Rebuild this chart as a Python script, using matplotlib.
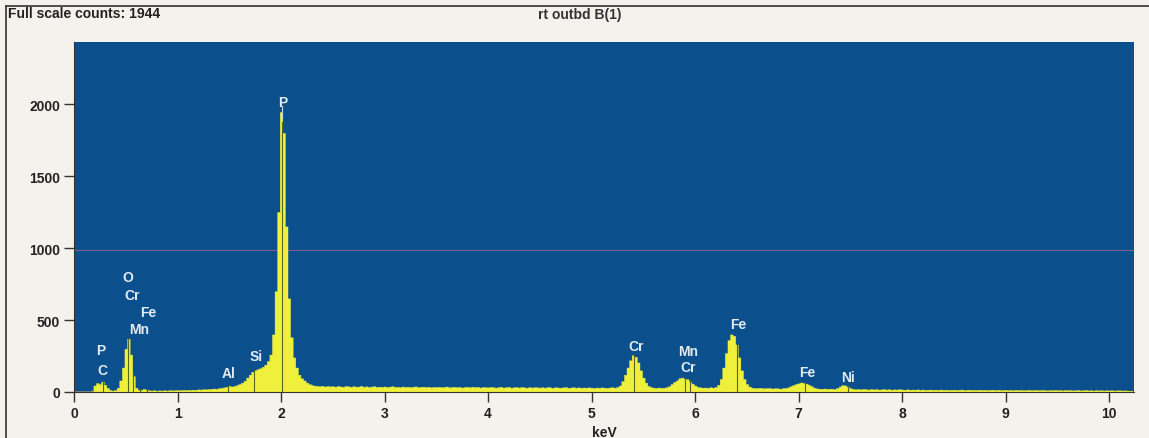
# EDS spectrum "rt outbd B(1)" - counts vs keV
import matplotlib
matplotlib.use("Agg")
import matplotlib.pyplot as plt
import numpy as np

plt.rcParams['font.family'] = ['Liberation Sans', 'DejaVu Sans']

STEP_KEV = 0.025

# counts per 0.025 keV channel, one row = 0.5 keV
COUNTS = [
    0, 0, 0, 0, 0, 0, 0, 10, 45, 62, 55, 72, 50, 28, 14, 10, 14, 30, 80, 170,
    300, 370, 260, 110, 30, 16, 14, 22, 16, 12, 10, 12, 9, 11, 10, 12, 10, 13, 11, 12,
    13, 12, 14, 13, 15, 14, 16, 15, 18, 17, 19, 18, 21, 20, 24, 22, 26, 28, 32, 36,
    42, 38, 42, 48, 55, 65, 78, 100, 120, 140, 150, 158, 165, 175, 190, 215, 260, 400, 700, 1250,
    1944, 1800, 1150, 650, 380, 240, 170, 120, 95, 80, 65, 55, 48, 44, 42, 40, 43, 38, 41, 39,
    40, 37, 42, 38, 36, 41, 39, 35, 40, 37, 38, 42, 36, 39, 34, 38, 40, 35, 37, 36,
    38, 34, 37, 40, 35, 36, 33, 38, 35, 37, 34, 36, 39, 33, 35, 37, 34, 36, 32, 35,
    34, 36, 33, 35, 38, 32, 34, 36, 33, 35, 31, 34, 36, 32, 37, 33, 35, 31, 34, 33,
    32, 35, 33, 30, 34, 36, 31, 33, 35, 30, 33, 34, 31, 35, 32, 30, 34, 31, 33, 32,
    31, 33, 30, 34, 32, 29, 33, 31, 30, 32, 34, 29, 31, 33, 30, 32, 29, 31, 30, 32,
    30, 28, 31, 29, 32, 30, 28, 31, 33, 30, 35, 45, 75, 120, 170, 220, 255, 245, 205, 150,
    100, 65, 42, 33, 30, 28, 31, 29, 30, 33, 40, 55, 70, 80, 95, 100, 92, 88, 70, 58,
    45, 36, 32, 30, 31, 29, 33, 30, 35, 50, 90, 170, 270, 360, 400, 390, 330, 240, 150, 90,
    55, 38, 30, 28, 26, 29, 27, 25, 28, 26, 24, 27, 25, 23, 26, 28, 32, 40, 48, 55,
    60, 66, 62, 58, 50, 40, 30, 25, 23, 22, 24, 21, 23, 22, 20, 28, 38, 48, 45, 36,
    26, 21, 19, 20, 18, 21, 19, 17, 20, 18, 19, 17, 18, 20, 17, 19, 16, 18, 17, 19,
    17, 16, 18, 15, 17, 16, 18, 15, 17, 14, 16, 17, 15, 16, 14, 17, 15, 16, 14, 15,
    16, 14, 15, 17, 13, 15, 16, 14, 15, 13, 16, 14, 15, 13, 14, 16, 13, 15, 14, 13,
    15, 13, 14, 12, 15, 13, 14, 12, 13, 15, 12, 14, 13, 12, 14, 13, 11, 13, 12, 14,
    12, 13, 11, 14, 12, 13, 11, 12, 13, 11, 12, 14, 11, 12, 10, 13, 11, 12, 10, 12,
    11, 12, 10, 11, 12, 10, 11, 10, 9, 10,
]

# element marker lines (keV)
MARKER_KEV = [0.277, 0.525, 0.573, 0.637, 0.705, 1.486, 1.740, 2.013,
              5.414, 5.899, 5.947, 6.404, 7.058, 7.478]

# peak labels: text, keV, counts
LABEL_TEXT = ["O", "Cr", "Fe", "Mn", "P", "C", "Al", "Si", "P",
              "Cr", "Mn", "Cr", "Fe", "Fe", "Ni"]
LABEL_KEV = [0.52, 0.56, 0.715, 0.63, 0.26, 0.27, 1.49, 1.76, 2.02,
             5.43, 5.93, 5.93, 6.42, 7.08, 7.48]
LABEL_CNT = [799, 674, 556, 437, 292, 153, 132, 250, 2014,
             319, 285, 174, 472, 139, 104]

FULL_SCALE = 1944
MARK_LEVEL = 985

BG = '#f3f2ec'
BLUE = '#0c4f8d'
YELLOW = '#eef03c'


def main():
    counts = np.array(COUNTS, dtype=float)
    energy = np.arange(len(counts)) * STEP_KEV

    fig = plt.figure(figsize=(11.49, 4.39), dpi=100, facecolor=BG)
    ax = fig.add_axes([74 / 1149, 46 / 439, 1060 / 1149, 350 / 439])
    ax.set_facecolor(BLUE)

    ax.fill_between(energy, counts, step='mid', color=YELLOW, lw=0.3,
                    edgecolor=YELLOW, zorder=2)
    ax.plot([0, 0.18], [2, 2], color='#8a8f80', lw=1.2, zorder=2)

    for e in MARKER_KEV:
        top = np.interp(e, energy, counts)
        ax.plot([e, e], [0, top + 8], color='#56661e', lw=0.8, zorder=3)
    ax.plot([2.013, 2.013], [1900, 1985], color='#c8d8e0', lw=0.8, zorder=3)

    ax.axhline(MARK_LEVEL, color='#8a5c90', lw=0.7, zorder=1)

    for t, e, c in zip(LABEL_TEXT, LABEL_KEV, LABEL_CNT):
        ax.text(e, c, t, ha='center', va='center', fontsize=10,
                fontweight='bold', color='#e2eaf2', zorder=4)

    ax.set_xlim(0, 10.24)
    ax.set_ylim(0, 2431)
    ax.set_xticks(range(0, 11))
    ax.set_yticks([0, 500, 1000, 1500, 2000])
    ax.tick_params(axis='both', direction='out', length=7, width=1,
                   color='#333333', labelsize=10, labelcolor='#222222', pad=3)
    for lab in ax.get_xticklabels() + ax.get_yticklabels():
        lab.set_fontweight('bold')
    for side in ('top', 'right'):
        ax.spines[side].set_visible(False)
    ax.spines['left'].set_color('#333333')
    ax.spines['bottom'].set_color('#333333')
    ax.set_xlabel('keV', fontsize=10, fontweight='bold', color='#222222', labelpad=4)

    fig.text(8 / 1149, 1 - 14 / 439, f'Full scale counts: {FULL_SCALE}', ha='left', va='center',
             fontsize=10, fontweight='bold', color='#222222')
    fig.text(580 / 1149, 1 - 15 / 439, 'rt outbd B(1)', ha='center', va='center',
             fontsize=10, fontweight='bold', color='#333333')

    # outer frame (left and top edges visible)
    fig.add_artist(plt.Line2D([6 / 1149, 6 / 1149], [0, 1 - 7 / 439], color='#333333',
                              lw=1.2, transform=fig.transFigure))
    fig.add_artist(plt.Line2D([6 / 1149, 1], [1 - 7 / 439, 1 - 7 / 439], color='#333333',
                              lw=1.2, transform=fig.transFigure))

    fig.savefig('out.png', dpi=100, facecolor=BG)


if __name__ == '__main__':
    main()
